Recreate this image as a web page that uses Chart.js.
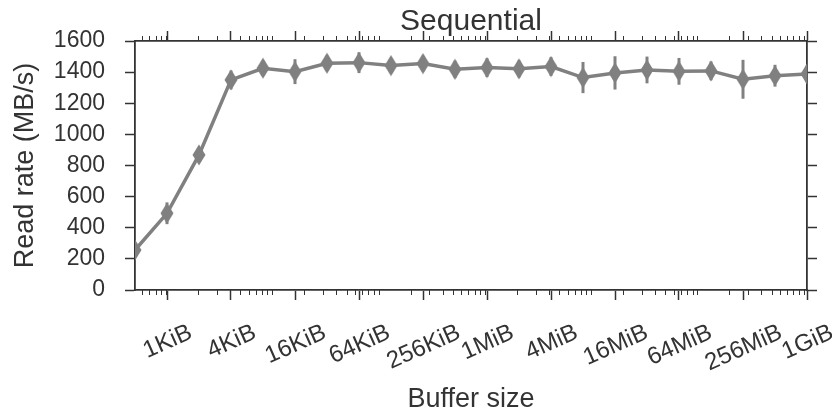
<!DOCTYPE html>
<html>
<head>
<meta charset="utf-8">
<title>Sequential</title>
<script src="https://cdn.jsdelivr.net/npm/chart.js@4.4.1/dist/chart.umd.min.js"></script>
<style>
	html, body { margin: 0; padding: 0; background: #fff; }
	#wrap { width: 832px; height: 413px; }
</style>
</head>
<body>
<div id="wrap"><canvas id="chart_sequential" width="832" height="413"></canvas></div>
<script>
"use strict";

// buffer sizes are powers of two (bytes): 2^9 = 512B ... 2^30 = 1GiB
var bufferExp = [9, 10, 11, 12, 13, 14, 15, 16, 17, 18, 19, 20, 21, 22, 23, 24, 25, 26, 27, 28, 29, 30];
var readRate  = [257, 493, 868, 1350, 1425, 1403, 1457, 1461, 1442, 1455, 1418, 1429, 1421, 1436, 1365, 1395, 1414, 1405, 1408, 1354, 1377, 1388];
var readErr   = [35, 70, 45, 60, 50, 80, 50, 67, 45, 50, 55, 60, 55, 60, 100, 107, 86, 86, 60, 125, 70, 55];

var tickExp    = [10, 12, 14, 16, 18, 20, 22, 24, 26, 28, 30];
var tickLabels = ['1KiB', '4KiB', '16KiB', '64KiB', '256KiB', '1MiB', '4MiB', '16MiB', '64MiB', '256MiB', '1GiB'];

var yMin = 0, yMax = 1600, yStep = 200;

var FONT = '"Liberation Sans", Arial, sans-serif';
var INK = '#333333';
var LINE = '#808080';

Chart.defaults.font.family = FONT;
Chart.defaults.color = INK;

// thin diamond marker
function makeDiamond() {
	var c = document.createElement('canvas');
	c.width = 14;
	c.height = 22;
	var g = c.getContext('2d');
	g.fillStyle = LINE;
	g.beginPath();
	g.moveTo(7, 0.5);
	g.lineTo(13.5, 11);
	g.lineTo(7, 21.5);
	g.lineTo(0.5, 11);
	g.closePath();
	g.fill();
	return c;
}

function setPow2Ticks(scale) {
	scale.ticks = tickExp.map(function (e) { return { value: Math.pow(2, e) }; });
}

var axisGrid = {
	drawOnChartArea: false,
	drawTicks: true,
	tickLength: 10,
	tickColor: INK,
	tickWidth: 1.5
};
var axisBorder = { display: true, color: INK, width: 1.8 };

// error bars, matplotlib-like minor ticks (at d*10^k bytes) and centred rotated x labels
var axisDecor = {
	id: 'axisDecor',
	beforeDatasetsDraw: function (chart) {
		var ctx = chart.ctx, xs = chart.scales.x, ys = chart.scales.y, area = chart.chartArea;
		ctx.save();
		ctx.beginPath();
		ctx.rect(area.left, area.top, area.right - area.left, area.bottom - area.top);
		ctx.clip();
		ctx.strokeStyle = LINE;
		ctx.lineWidth = 3;
		for (var i = 0; i < bufferExp.length; i++) {
			var px = xs.getPixelForValue(Math.pow(2, bufferExp[i]));
			ctx.beginPath();
			ctx.moveTo(px, ys.getPixelForValue(readRate[i] - readErr[i]));
			ctx.lineTo(px, ys.getPixelForValue(readRate[i] + readErr[i]));
			ctx.stroke();
		}
		ctx.restore();
	},
	afterDraw: function (chart) {
		var ctx = chart.ctx, xs = chart.scales.x, area = chart.chartArea;
		ctx.save();
		ctx.strokeStyle = INK;
		ctx.lineWidth = 1;
		for (var k = 2; k <= 9; k++) {
			for (var d = 1; d <= 9; d++) {
				var v = d * Math.pow(10, k);
				if (v <= xs.min || v >= xs.max) continue;
				var px = Math.round(xs.getPixelForValue(v)) + 0.5;
				ctx.beginPath();
				ctx.moveTo(px, area.bottom);
				ctx.lineTo(px, area.bottom + 5);
				ctx.moveTo(px, area.top);
				ctx.lineTo(px, area.top - 5);
				ctx.stroke();
			}
		}
		ctx.font = '24px ' + FONT;
		ctx.fillStyle = INK;
		ctx.textAlign = 'center';
		ctx.textBaseline = 'alphabetic';
		var ang = 24 * Math.PI / 180, h = 17;
		tickExp.forEach(function (e, i) {
			var px = xs.getPixelForValue(Math.pow(2, e));
			var w = ctx.measureText(tickLabels[i]).width;
			var cy = area.bottom + 32 + (w * Math.sin(ang) + h * Math.cos(ang)) / 2;
			ctx.save();
			ctx.translate(px, cy);
			ctx.rotate(-ang);
			ctx.fillText(tickLabels[i], 0, h / 2);
			ctx.restore();
		});
		ctx.restore();
	}
};

var SequentialChart = new Chart('chart_sequential', {
	type: 'line',
	data: {
		datasets: [{
			data: bufferExp.map(function (e, i) { return { x: Math.pow(2, e), y: readRate[i] }; }),
			borderColor: LINE,
			backgroundColor: LINE,
			borderWidth: 3.5,
			tension: 0,
			pointStyle: makeDiamond(),
			pointRadius: 7,
			clip: 0
		}]
	},
	options: {
		responsive: false,
		animation: false,
		devicePixelRatio: 1,
		layout: { padding: 0 },
		plugins: {
			legend: { display: false },
			tooltip: { enabled: false },
			title: {
				display: true,
				fullSize: false,
				text: 'Sequential',
				color: INK,
				font: { size: 30, weight: 'normal', lineHeight: 1.2 },
				padding: { top: 4, bottom: 0 }
			}
		},
		scales: {
			x: {
				type: 'logarithmic',
				position: 'bottom',
				min: Math.pow(2, 9),
				max: Math.pow(2, 30),
				afterBuildTicks: setPow2Ticks,
				afterFit: function (s) { s.height = 123; },
				ticks: { display: false, autoSkip: false },
				grid: axisGrid,
				border: axisBorder,
				title: {
					display: true,
					text: 'Buffer size',
					color: INK,
					font: { size: 27, lineHeight: 1 },
					padding: { top: 0, bottom: 0 }
				}
			},
			x2: {
				type: 'logarithmic',
				position: 'top',
				min: Math.pow(2, 9),
				max: Math.pow(2, 30),
				afterBuildTicks: setPow2Ticks,
				afterFit: function (s) { s.height = 1; },
				ticks: { display: false, autoSkip: false },
				grid: axisGrid,
				border: axisBorder
			},
			y: {
				position: 'left',
				min: yMin,
				max: yMax,
				afterFit: function (s) { s.width = 135; },
				ticks: {
					stepSize: yStep,
					padding: 20,
					color: INK,
					font: { size: 23 },
					callback: function (value) { return String(value); }
				},
				grid: axisGrid,
				border: axisBorder,
				title: {
					display: true,
					text: 'Read rate (MB/s)',
					color: INK,
					font: { size: 27, lineHeight: 1 },
					padding: { top: 12.5, bottom: 0 }
				}
			},
			y2: {
				position: 'right',
				min: yMin,
				max: yMax,
				afterFit: function (s) { s.width = 25; },
				ticks: { display: false, stepSize: yStep },
				grid: axisGrid,
				border: axisBorder
			}
		}
	},
	plugins: [axisDecor]
});
</script>
</body>
</html>
